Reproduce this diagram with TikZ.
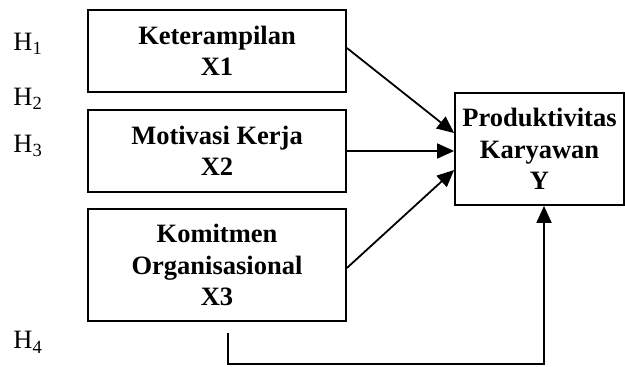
\documentclass[tikz,border=0pt]{standalone}
\usepackage{fontspec}
\setmainfont{Liberation Serif}
\usetikzlibrary{arrows.meta,calc}
\begin{document}
\begin{tikzpicture}[x=0.5pt,y=-0.5pt,
  box/.style={draw,line width=0.9pt,rectangle,inner sep=0pt,align=center,
    font=\fontsize{13.25}{15.75}\selectfont\bfseries},
  hlab/.style={anchor=base west,inner sep=0pt,font=\fontsize{13.25}{15.75}\selectfont},
  arr/.style={line width=0.9pt,-{Triangle[length=8.5pt,width=7.5pt]}}]
\useasboundingbox (0,0) rectangle (625,367);
\node[box,minimum width=129pt,minimum height=41pt] (x1) at (217,51) {Keterampilan\\X1};
\node[box,minimum width=129pt,minimum height=41pt] (x2) at (217,151) {Motivasi Kerja\\X2};
\node[box,minimum width=129pt,minimum height=56pt] (x3) at (217,265) {Komitmen\\Organisasional\\X3};
\node[box,minimum width=84.5pt,minimum height=56pt] (y) at (539.5,149) {Produktivitas\\Karyawan\\Y};
\node[hlab] (h1) at (13,50.5) {H\textsubscript{1}};
\node[hlab] (h2) at (13,105.5) {H\textsubscript{2}};
\node[hlab] (h3) at (13,152.5) {H\textsubscript{3}};
\node[hlab] (h4) at (13,349) {H\textsubscript{4}};
\draw[arr] ($(x1.east)+(0,-3)$) -- ($(y.west)+(0,-16)$);
\draw[arr] (x2.east) -- (x2.east -| y.west);
\draw[arr] ($(x3.east)+(0,3)$) -- ($(y.west)+(0,21)$);
\coordinate (s4) at (228,333);
\coordinate (c4) at (544,364);
\draw[arr] (s4) |- (c4) -- (c4 |- y.south);
\end{tikzpicture}
\end{document}
